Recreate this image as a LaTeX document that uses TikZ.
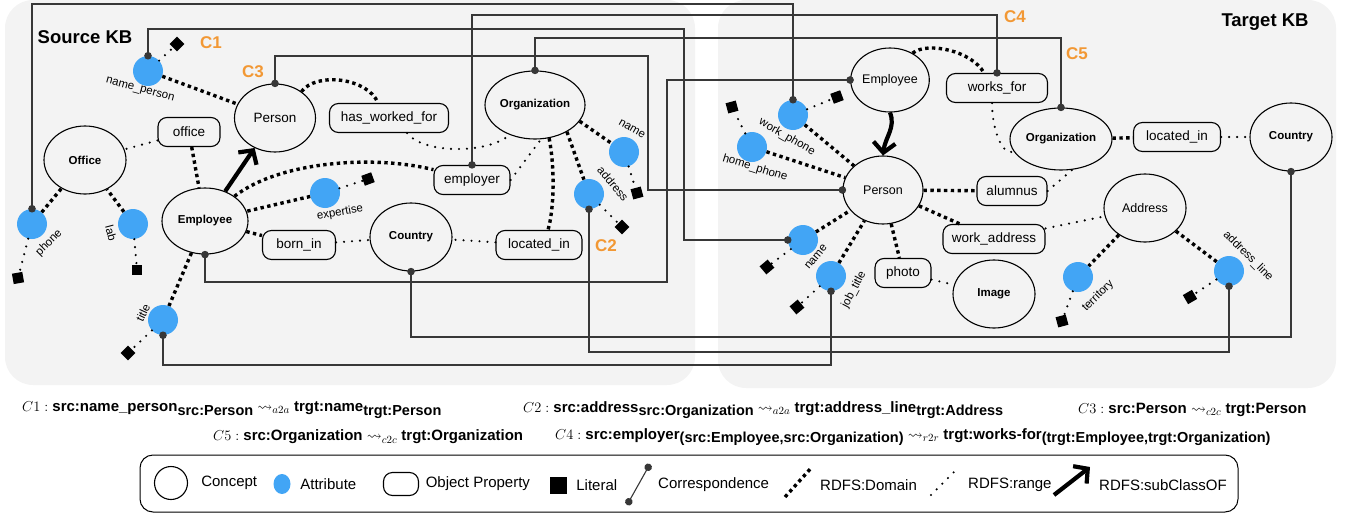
\documentclass[tikz,border=0pt]{standalone}
\usepackage{amssymb}
\usepackage{fontspec}
\setmainfont{Liberation Sans}
\usetikzlibrary{positioning,shapes.geometric,arrows.meta}

\definecolor{attrblue}{RGB}{66,165,245}
\definecolor{corrorange}{RGB}{242,152,52}
\definecolor{kbgray}{RGB}{243,243,243}
\definecolor{corrgray}{RGB}{55,55,55}

\newcommand{\setfs}[1]{\fontsize{#1}{#1}\selectfont}
\newcommand{\subkb}[1]{\raisebox{-0.45ex}{\setfs{14.5}#1}}
\newcommand{\corrmap}[1]{$\rightsquigarrow_{#1}$}

\begin{document}
\begin{tikzpicture}[x=1pt,y=-1pt]
  \tikzset{ConceptStyle/.style = {
    shape         = ellipse,
    draw          = black,
    line width    = 1.1pt,
    inner sep     = 0pt,
    minimum width = 82pt,
    minimum height= 68pt,
    font          = {\setfs{11.5}\bfseries}
    }
  }
  \tikzset{AttrStyle/.style = {
    shape         = circle,
    fill          = attrblue,
    inner sep     = 0pt,
    minimum size  = 30pt
    }
  }
  \tikzset{LiteralStyle/.style = {
    shape         = rectangle,
    fill          = black,
    inner sep     = 0pt,
    minimum size  = 10.5pt
    }
  }
  \tikzset{PropStyle/.style = {
    shape          = rectangle,
    draw           = black,
    rounded corners= 9pt,
    line width     = 1.1pt,
    minimum height = 29pt,
    inner xsep     = 6pt,
    font           = \setfs{13.5}
    }
  }
  \tikzset{AttrLabelStyle/.style = {
    inner sep     = 1pt,
    font          = \setfs{11.5}
    }
  }
  \tikzset{DomainStyle/.style = {
    line width   = 3.4pt,
    dash pattern = on 3.4pt off 3.4pt
    }
  }
  \tikzset{RangeStyle/.style = {
    line width   = 2.4pt,
    line cap     = round,
    dash pattern = on 0pt off 8pt
    }
  }
  \tikzset{CorrStyle/.style = {
    draw         = corrgray,
    line width   = 1.1pt,
    arrows       = {Circle[length=7.5pt]-Circle[length=7.5pt]},
    shorten <=   -3.7pt,
    shorten >=   -3.7pt
    }
  }
  \tikzset{SubClassStyle/.style = {
    line width   = 4.2pt,
    arrows       = {-Straight Barb[length=10pt,width=22pt]}
    }
  }
  \tikzset{CLabelStyle/.style = {
    text          = corrorange,
    font          = {\setfs{17}\bfseries}
    }
  }
  \tikzset{TitleStyle/.style = {
    font          = {\setfs{18.5}\bfseries}
    }
  }
  \tikzset{FormulaStyle/.style = {
    anchor        = west,
    inner sep     = 0pt,
    font          = {\setfs{15}\bfseries}
    }
  }
  \tikzset{LegendTextStyle/.style = {
    inner sep     = 0pt,
    font          = \setfs{15}
    }
  }

  \useasboundingbox (0,0) rectangle (1347,514);

  % knowledge base panels
  \fill[kbgray, rounded corners=28pt] (5,0) rectangle (695,385);
  \fill[kbgray, rounded corners=28pt] (718,0) rectangle (1336,388);

  % source KB
	\node[TitleStyle](STitle) at (85,37) {Source KB};
	\node[ConceptStyle, minimum width=81pt, font=\setfs{13.5}](SPerson) at (275,118) {Person};
	\node[ConceptStyle, minimum width=100pt](SOrg) at (535,105) {Organization};
	\node[ConceptStyle](SOffice) at (85,160) {Office};
	\node[ConceptStyle, minimum width=86pt, minimum height=66pt](SEmp) at (205,221) {Employee};
	\node[ConceptStyle](SCountry) at (411,237) {Country};
	\node[PropStyle, minimum width=119pt](SHwf) at (389,118) {has\_worked\_for};
	\node[PropStyle, minimum width=76pt](SEmployer) at (472,180) {employer};
	\node[PropStyle, minimum width=62pt](SOfficeP) at (189,132) {office};
	\node[PropStyle, minimum width=73pt](SBorn) at (299,245) {born\_in};
	\node[PropStyle, minimum width=86pt](SLoc) at (539,245) {located\_in};
	\node[AttrStyle](SNameP) at (148,71) {};
	\node[AttrStyle](SPhone) at (32,224) {};
	\node[AttrStyle](SLab) at (133,224) {};
	\node[AttrStyle](SExp) at (325,193) {};
	\node[AttrStyle](SName) at (624,152) {};
	\node[AttrStyle](SAddr) at (589,194) {};
	\node[AttrStyle](STitleA) at (163,320) {};
	\node[AttrLabelStyle, rotate=-15] at (140,90) {name\_person};
	\node[AttrLabelStyle, rotate=45] at (49,243) {phone};
	\node[AttrLabelStyle, rotate=-75] at (111,233) {lab};
	\node[AttrLabelStyle, rotate=10] at (340,213) {expertise};
	\node[AttrLabelStyle, rotate=-30] at (632,129) {name};
	\node[AttrLabelStyle, rotate=-50] at (613,184) {address};
	\node[AttrLabelStyle, rotate=65] at (143,313) {title};
	\node[LiteralStyle, rotate=45](SNamePV) at (177,44) {};
	\node[LiteralStyle, rotate=10](SPhoneV) at (18,278) {};
	\node[LiteralStyle](SLabV) at (137,270) {};
	\node[LiteralStyle, rotate=20](SExpV) at (368,179) {};
	\node[LiteralStyle, rotate=15](SNameV) at (637,193) {};
	\node[LiteralStyle, rotate=45](SAddrV) at (622,227) {};
	\node[LiteralStyle, rotate=45](STitleV) at (128,353) {};
	\node[CLabelStyle](C1) at (211,43) {C1};
	\node[CLabelStyle](C3) at (253,72) {C3};
	\node[CLabelStyle](C2) at (606,246) {C2};

  % target KB
	\node[TitleStyle](TTitle) at (1265,22) {Target KB};
	\node[ConceptStyle, minimum width=78pt, minimum height=64pt, font=\setfs{12.5}](TEmp) at (890,80) {Employee};
	\node[ConceptStyle, minimum width=80pt, font=\setfs{12.5}](TPerson) at (883,190) {Person};
	\node[ConceptStyle, minimum width=102pt, minimum height=62pt](TOrg) at (1061,139) {Organization};
	\node[ConceptStyle](TCountry) at (1291,137) {Country};
	\node[ConceptStyle, font=\setfs{12.5}](TAddr) at (1145,208) {Address};
	\node[ConceptStyle](TImage) at (994,294) {Image};
	\node[PropStyle, minimum width=101pt](TWorks) at (997,88) {works\_for};
	\node[PropStyle, minimum width=87pt](TLoc) at (1177,137) {located\_in};
	\node[PropStyle, minimum width=70pt](TAlum) at (1012,191) {alumnus};
	\node[PropStyle, minimum width=102pt](TWAddr) at (994,239) {work\_address};
	\node[PropStyle, minimum width=56pt](TPhoto) at (903,273) {photo};
	\node[AttrStyle](TWPhone) at (793,115) {};
	\node[AttrStyle](THPhone) at (752,147) {};
	\node[AttrStyle](TName) at (803,240) {};
	\node[AttrStyle](TJob) at (831,276) {};
	\node[AttrStyle](TTerr) at (1078,277) {};
	\node[AttrStyle](TAddrL) at (1229,271) {};
	\node[AttrLabelStyle, rotate=-30] at (787,137) {work\_phone};
	\node[AttrLabelStyle, rotate=-17] at (755,168) {home\_phone};
	\node[AttrLabelStyle, rotate=50] at (816,257) {name};
	\node[AttrLabelStyle, rotate=62] at (854,290) {job\_title};
	\node[AttrLabelStyle, rotate=45] at (1098,296) {territory};
	\node[AttrLabelStyle, rotate=-45] at (1248,256) {address\_line};
	\node[LiteralStyle, rotate=20](TWPhoneV) at (837,97) {};
	\node[LiteralStyle, rotate=15](THPhoneV) at (732,107) {};
	\node[LiteralStyle, rotate=40](TNameV) at (767,267) {};
	\node[LiteralStyle, rotate=40](TJobV) at (797,307) {};
	\node[LiteralStyle, rotate=15](TTerrV) at (1062,321) {};
	\node[LiteralStyle, rotate=30](TAddrLV) at (1190,297) {};
	\node[CLabelStyle](C4) at (1015,17) {C4};
	\node[CLabelStyle](C5) at (1077,54) {C5};

  % rdfs:domain
	\draw[DomainStyle](SNameP) -- (SPerson);
	\draw[DomainStyle](SOfficeP) -- (SEmp);
	\draw[DomainStyle](SPhone) -- (SOffice);
	\draw[DomainStyle](SLab) -- (SOffice);
	\draw[DomainStyle](SExp) -- (SEmp);
	\draw[DomainStyle](SEmp) -- (SBorn);
	\draw[DomainStyle](SEmp) -- (STitleA);
	\draw[DomainStyle](SOrg.340) -- (SName);
	\draw[DomainStyle](SOrg.320) -- (SAddr);
	\draw[DomainStyle](SPerson.45) .. controls +(15,-20) and +(-10,-25) .. ([xshift=-11pt]SHwf.north);
	\draw[DomainStyle](SEmp.40) .. controls +(45,-35) and +(-60,-15) .. (SEmployer.165);
	\draw[DomainStyle](SOrg.293) .. controls +(6,30) and +(6,-20) .. ([xshift=9pt]SLoc.north);
	\draw[DomainStyle](TWPhone) -- (TPerson);
	\draw[DomainStyle](THPhone) -- (TPerson);
	\draw[DomainStyle](TName) -- (TPerson);
	\draw[DomainStyle](TJob) -- (TPerson);
	\draw[DomainStyle](TPerson) -- (TAlum);
	\draw[DomainStyle](TPerson) -- (TWAddr);
	\draw[DomainStyle](TPerson) -- (TPhoto);
	\draw[DomainStyle](TAddr) -- (TTerr);
	\draw[DomainStyle](TAddr) -- (TAddrL);
	\draw[DomainStyle](TOrg) -- (TLoc);
	\draw[DomainStyle](TEmp.50) .. controls +(15,-12) and +(-12,-22) .. ([xshift=-13pt]TWorks.north);

  % rdfs:range
	\draw[RangeStyle](SNameP) -- (SNamePV);
	\draw[RangeStyle](SPhone) -- (SPhoneV);
	\draw[RangeStyle](SLab) -- (SLabV);
	\draw[RangeStyle](SExp) -- (SExpV);
	\draw[RangeStyle](SName) -- (SNameV);
	\draw[RangeStyle](SAddr) -- (SAddrV);
	\draw[RangeStyle](STitleA) -- (STitleV);
	\draw[RangeStyle](SOfficeP) -- (SOffice);
	\draw[RangeStyle](SBorn) -- (SCountry);
	\draw[RangeStyle](SLoc) -- (SCountry);
	\draw[RangeStyle](SEmployer.east) -- (SOrg.280);
	\draw[RangeStyle]([xshift=18pt]SHwf.south) .. controls +(15,20) and +(-25,20) .. (SOrg.230);
	\draw[RangeStyle](TWPhone) -- (TWPhoneV);
	\draw[RangeStyle](THPhone) -- (THPhoneV);
	\draw[RangeStyle](TName) -- (TNameV);
	\draw[RangeStyle](TJob) -- (TJobV);
	\draw[RangeStyle](TTerr) -- (TTerrV);
	\draw[RangeStyle](TAddrL) -- (TAddrLV);
	\draw[RangeStyle](TPhoto) -- (TImage);
	\draw[RangeStyle](TWAddr) -- (TAddr);
	\draw[RangeStyle](TLoc) -- (TCountry);
	\draw[RangeStyle](TAlum.east) -- (TOrg.290);
	\draw[RangeStyle]([xshift=-5pt]TWorks.south) .. controls +(0,25) and +(-12,5) .. (TOrg.195);

  % rdfs:subClassOf
	\draw[SubClassStyle](SEmp) -- (SPerson);
	\draw[SubClassStyle](TEmp.south) .. controls +(6,15) and +(2,-18) .. (TPerson.north);

  % correspondences
	\coordinate (KPhone) at (400,4);
	\coordinate (KNameP) at (684,29);
	\coordinate (KPerson) at (648,56);
	\coordinate (KEmp) at (667,282);
	\coordinate (KEmployer) at (700,15);
	\coordinate (KOrg) at (800,38);
	\coordinate (KCountry) at (800,337);
	\coordinate (KAddr) at (900,352);
	\coordinate (KTitle) at (500,365);
	\draw[CorrStyle](SPhone.north) |- (KPhone) -| (TWPhone.north);
	\draw[CorrStyle](SNameP.north) |- (KNameP) |- (TName.west);
	\draw[CorrStyle](SPerson.north) |- (KPerson) |- (TPerson.west);
	\draw[CorrStyle](SEmp.south) |- (KEmp) |- (TEmp.west);
	\draw[CorrStyle](SEmployer.north) |- (KEmployer) -| (TWorks.north);
	\draw[CorrStyle](SOrg.north) |- (KOrg) -| (TOrg.north);
	\draw[CorrStyle](SCountry.south) |- (KCountry) -| (TCountry.south);
	\draw[CorrStyle](SAddr.south) |- (KAddr) -| (TAddrL.south);
	\draw[CorrStyle](STitleA.south) |- (KTitle) -| (TJob.south);

  % mappings
	\node[FormulaStyle](F1) at (22,410) {$C1:$ src:name\_person\subkb{src:Person} \corrmap{a2a} trgt:name\subkb{trgt:Person}};
	\node[FormulaStyle](F2) at (523,410) {$C2:$ src:address\subkb{src:Organization} \corrmap{a2a} trgt:address\_line\subkb{trgt:Address}};
	\node[FormulaStyle](F3) at (1078,410) {$C3:$ src:Person \corrmap{c2c} trgt:Person};
	\node[FormulaStyle](F5) at (213,437) {$C5:$ src:Organization \corrmap{c2c} trgt:Organization};
	\node[FormulaStyle](F4) at (555,437) {$C4:$ src:employer\subkb{(src:Employee,src:Organization)} \corrmap{r2r} trgt:works-for\subkb{(trgt:Employee,trgt:Organization)}};

  % legend
	\draw[line width=1pt, rounded corners=13pt] (140,455) rectangle (1238,512);
	\node[ConceptStyle, minimum width=33pt, minimum height=33pt](LConcept) at (171,483) {};
	\node[LegendTextStyle, right=13pt of LConcept] {Concept};
	\node[shape=ellipse, fill=attrblue, inner sep=0pt, minimum width=17pt, minimum height=20pt](LAttr) at (282,484) {};
	\node[LegendTextStyle, right=9.5pt of LAttr] {Attribute};
	\node[PropStyle, minimum width=35pt, minimum height=23pt](LProp) at (401,484) {};
	\node[LegendTextStyle, right=6.5pt of LProp] {Object Property};
	\node[LiteralStyle, minimum size=17pt](LLit) at (558,485) {};
	\node[LegendTextStyle, right=9.5pt of LLit] {Literal};
	\coordinate (LCorrA) at (627,505);
	\coordinate (LCorrB) at (650,464);
	\draw[CorrStyle, shorten <=0pt, shorten >=0pt](LCorrA) -- (LCorrB);
	\node[LegendTextStyle, anchor=west] at (658,485) {Correspondence};
	\coordinate (LDomA) at (785,497);
	\coordinate (LDomB) at (812,467);
	\draw[DomainStyle](LDomA) -- (LDomB);
	\node[LegendTextStyle, anchor=west] at (820,485) {RDFS:Domain};
	\coordinate (LRngA) at (931,495);
	\coordinate (LRngB) at (955,471);
	\draw[RangeStyle](LRngA) -- (LRngB);
	\node[LegendTextStyle, anchor=west] at (968,485) {RDFS:range};
	\coordinate (LSubA) at (1054,495);
	\coordinate (LSubB) at (1090,467);
	\draw[SubClassStyle](LSubA) -- (LSubB);
	\node[LegendTextStyle, anchor=west] at (1099,485) {RDFS:subClassOF};

  \end{tikzpicture}
\end{document}
